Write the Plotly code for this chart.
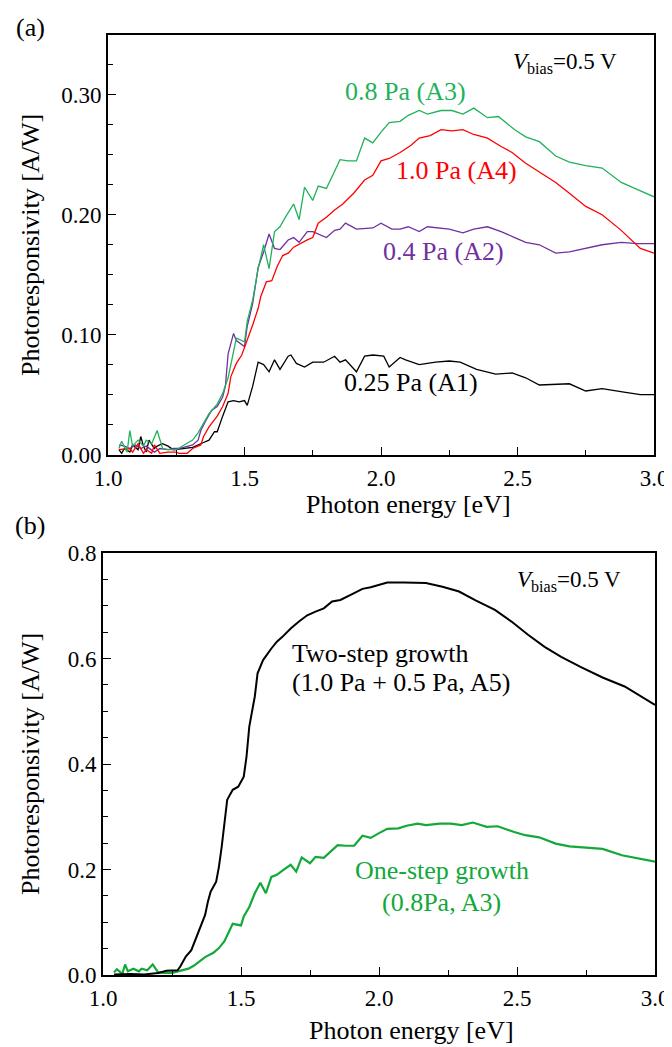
import plotly.graph_objects as go

# ---------------- data: panel (a) ----------------
a1_x = [1.04,1.05,1.06,1.08,1.09,1.11,1.12,1.13,1.14,1.15,
        1.17,1.18,1.20,1.22,1.24,1.28,1.31,1.35,1.37,1.39,
        1.40,1.42,1.44,1.46,1.48,1.50,1.51,1.53,1.55,1.57,
        1.59,1.61,1.63,1.66,1.67,1.69,1.72,1.75,1.79,1.83,
        1.85,1.87,1.91,1.94,1.97,2.01,2.03,2.07,2.09,2.14,
        2.20,2.25,2.29,2.35,2.42,2.48,2.53,2.58,2.69,2.75,
        2.81,2.89,2.95,3.00]
a1_y = [0.004,0.001,0.005,0.002,0.008,0.004,0.015,0.007,0.002,0.012,
        0.005,0.007,0.009,0.007,0.004,0.005,0.006,0.010,0.012,0.019,
        0.019,0.032,0.044,0.045,0.044,0.045,0.041,0.057,0.077,0.075,
        0.069,0.079,0.071,0.082,0.083,0.076,0.073,0.077,0.077,0.082,
        0.077,0.079,0.069,0.082,0.083,0.082,0.073,0.081,0.079,0.075,
        0.077,0.078,0.077,0.071,0.067,0.068,0.064,0.058,0.059,0.053,
        0.055,0.052,0.050,0.050]

a2_x = [1.04,1.06,1.08,1.10,1.12,1.14,1.17,1.19,1.22,1.24,1.26,1.29,
        1.31,1.33,1.34,1.36,1.38,1.40,1.42,1.43,1.44,1.46,
        1.47,1.50,1.51,1.53,1.55,1.57,1.59,1.61,1.63,1.66,
        1.68,1.70,1.73,1.75,1.80,1.83,1.85,1.87,1.91,1.97,
        2.00,2.04,2.07,2.10,2.14,2.17,2.25,2.30,2.34,2.39,
        2.44,2.49,2.53,2.58,2.64,2.69,2.75,2.81,2.88,2.94,
        3.00]
a2_y = [0.008,0.007,0.005,0.008,0.005,0.007,0.002,0.005,0.004,0.005,0.005,0.007,
        0.008,0.012,0.020,0.029,0.037,0.040,0.048,0.057,0.084,0.101,
        0.095,0.090,0.107,0.126,0.156,0.169,0.184,0.172,0.171,0.179,
        0.181,0.177,0.186,0.186,0.181,0.187,0.188,0.193,0.188,0.189,
        0.193,0.188,0.188,0.190,0.186,0.190,0.188,0.185,0.188,0.190,
        0.186,0.181,0.177,0.175,0.168,0.169,0.172,0.175,0.177,0.176,
        0.176]

a3_x = [1.04,1.05,1.07,1.08,1.09,1.11,1.13,1.14,1.16,1.18,
        1.20,1.22,1.25,1.29,1.31,1.33,1.35,1.37,1.40,1.42,
        1.44,1.46,1.47,1.50,1.51,1.53,1.55,1.57,1.59,1.61,
        1.63,1.65,1.68,1.70,1.72,1.75,1.77,1.80,1.85,1.88,
        1.91,1.94,1.97,2.00,2.03,2.07,2.10,2.14,2.17,2.22,
        2.26,2.30,2.34,2.39,2.43,2.49,2.53,2.58,2.64,2.69,
        2.75,2.81,2.88,2.94,3.00]
a3_y = [0.005,0.011,0.002,0.020,0.007,0.012,0.007,0.012,0.009,0.020,
        0.005,0.004,0.004,0.009,0.012,0.018,0.026,0.034,0.042,0.051,
        0.064,0.087,0.097,0.094,0.111,0.129,0.155,0.175,0.155,0.186,
        0.190,0.198,0.209,0.196,0.223,0.212,0.224,0.222,0.246,0.245,
        0.245,0.264,0.260,0.269,0.277,0.278,0.283,0.287,0.284,0.287,
        0.287,0.284,0.289,0.281,0.282,0.271,0.265,0.261,0.249,0.244,
        0.241,0.239,0.227,0.221,0.215]

a4_x = [1.04,1.08,1.09,1.11,1.13,1.14,1.16,1.17,1.19,1.22,
        1.25,1.26,1.29,1.31,1.34,1.35,1.37,1.40,1.42,1.44,
        1.45,1.47,1.49,1.51,1.53,1.55,1.56,1.58,1.60,1.62,
        1.64,1.66,1.68,1.73,1.75,1.77,1.80,1.83,1.86,1.90,
        1.94,1.97,2.00,2.03,2.07,2.11,2.14,2.18,2.22,2.26,
        2.30,2.34,2.39,2.44,2.48,2.53,2.58,2.64,2.69,2.75,
        2.81,2.88,2.95,3.00]
a4_y = [0.004,0.005,0.002,0.009,0.001,0.004,0.001,0.008,0.001,0.002,
        0.002,0.001,0.001,0.005,0.008,0.015,0.023,0.032,0.040,0.051,
        0.065,0.076,0.083,0.095,0.108,0.122,0.132,0.144,0.145,0.157,
        0.166,0.168,0.173,0.179,0.181,0.193,0.198,0.204,0.209,0.218,
        0.229,0.233,0.245,0.247,0.252,0.258,0.264,0.266,0.271,0.270,
        0.271,0.267,0.264,0.257,0.252,0.243,0.236,0.227,0.218,0.207,
        0.200,0.187,0.172,0.168]

# ---------------- data: panel (b) ----------------
a5_x = [1.04,1.10,1.15,1.20,1.23,1.27,1.28,1.30,1.32,1.34,
        1.36,1.37,1.38,1.39,1.41,1.42,1.43,1.44,1.45,1.47,
        1.49,1.51,1.52,1.53,1.55,1.56,1.58,1.61,1.63,1.65,
        1.68,1.71,1.74,1.77,1.80,1.83,1.86,1.91,1.94,1.97,
        2.00,2.03,2.09,2.17,2.23,2.29,2.35,2.42,2.48,2.54,
        2.60,2.66,2.73,2.81,2.89,3.00]
a5_y = [0.001,0.002,0.001,0.004,0.008,0.009,0.016,0.035,0.047,0.073,
        0.098,0.114,0.139,0.158,0.177,0.205,0.243,0.288,0.332,0.351,
        0.357,0.376,0.414,0.471,0.528,0.572,0.597,0.619,0.632,0.641,
        0.657,0.670,0.682,0.689,0.695,0.708,0.711,0.724,0.732,0.735,
        0.739,0.744,0.744,0.743,0.736,0.727,0.710,0.692,0.670,0.645,
        0.622,0.603,0.584,0.564,0.547,0.512]

for xs, ys in [(a1_x, a1_y), (a2_x, a2_y), (a3_x, a3_y), (a4_x, a4_y), (a5_x, a5_y)]:
    assert len(xs) == len(ys)

# ---------------- styling ----------------
W, H = 672, 1047
OFF = 8  # page body margin offset
FONT = "Liberation Serif"
BLACK = "#000000"
RED = "#ff0000"
PURPLE = "#7030a0"
GREEN_A = "#1fb25a"
GREEN_B = "#12a83a"

def px2x(p):
    return (p - OFF) / W

def px2y(p):
    return 1 - (p - OFF) / H

fig = go.Figure()

# panel (a)
for xs, ys, col in [(a1_x, a1_y, BLACK), (a2_x, a2_y, PURPLE),
                    (a4_x, a4_y, RED), (a3_x, a3_y, GREEN_A)]:
    fig.add_trace(go.Scatter(x=xs, y=ys, mode="lines", xaxis="x", yaxis="y",
                             line=dict(color=col, width=1.3), showlegend=False))
# panel (b)
fig.add_trace(go.Scatter(x=a3_x, y=a3_y, mode="lines", xaxis="x2", yaxis="y2",
                         line=dict(color=GREEN_B, width=2.2), showlegend=False))
fig.add_trace(go.Scatter(x=a5_x, y=a5_y, mode="lines", xaxis="x2", yaxis="y2",
                         line=dict(color=BLACK, width=2.0), showlegend=False))

axis_common = dict(showline=True, linecolor="black", linewidth=1.6, mirror=True,
                   ticks="inside", ticklen=8, tickwidth=1.4, tickcolor="black",
                   showgrid=False, zeroline=False, automargin=False,
                   tickfont=dict(family=FONT, size=23, color="black"))

fig.update_layout(
    width=W, height=H, autosize=False,
    margin=dict(l=0, r=0, t=0, b=0, pad=0, autoexpand=False),
    paper_bgcolor="white", plot_bgcolor="white",
    font=dict(family=FONT, color="black"),
    xaxis=dict(domain=[px2x(108), px2x(654)], range=[1.0, 3.0], dtick=0.5, tick0=1.0,
               tickformat=".1f", anchor="y", ticklabelstandoff=2,
               minor=dict(ticks="inside", ticklen=5, dtick=0.25, tickwidth=1.4, tickcolor="black"),
               **axis_common),
    yaxis=dict(domain=[px2y(454.5), px2y(35)], range=[0, 0.35], dtick=0.1, tick0=0,
               tickformat=".2f", anchor="x",
               minor=dict(ticks="inside", ticklen=5, dtick=0.025, tickwidth=1.4, tickcolor="black"),
               **axis_common),
    xaxis2=dict(domain=[px2x(103), px2x(655)], range=[1.0, 3.0], dtick=0.5, tick0=1.0,
                tickformat=".1f", anchor="y2", ticklabelstandoff=2,
                minor=dict(ticks="inside", ticklen=5, dtick=0.25, tickwidth=1.4, tickcolor="black"),
                **axis_common),
    yaxis2=dict(domain=[px2y(975), px2y(553)], range=[0, 0.8], dtick=0.2, tick0=0,
                tickformat=".1f", anchor="x2",
                minor=dict(ticks="inside", ticklen=5, dtick=0.05, tickwidth=1.4, tickcolor="black"),
                **axis_common),
)

ann = []
def paper_text(text, x, y, size, xanchor="center", yanchor="middle", angle=0, color="black"):
    ann.append(dict(text=text, x=px2x(x), y=px2y(y), xref="paper", yref="paper",
                    xanchor=xanchor, yanchor=yanchor, showarrow=False, textangle=angle,
                    font=dict(family=FONT, size=size, color=color)))

def data_text(text, x, y, xr, yr, size, color, xanchor="center", align="center"):
    ann.append(dict(text=text, x=x, y=y, xref=xr, yref=yr, xanchor=xanchor,
                    yanchor="middle", align=align, showarrow=False,
                    font=dict(family=FONT, size=size, color=color)))

# panel labels
paper_text("(a)", 30, 27, 26)
paper_text("(b)", 30, 525, 26)
# axis titles
paper_text("Photoresponsivity [A/W]", 30, 245, 26, angle=-90)
paper_text("Photoresponsivity [A/W]", 30, 764, 26, angle=-90)
paper_text("Photon energy [eV]", 408, 504, 26)
paper_text("Photon energy [eV]", 411, 1030, 26)
# bias
paper_text("<i>V</i><sub>bias</sub>=0.5 V", 619, 63, 23, xanchor="right")
paper_text("<i>V</i><sub>bias</sub>=0.5 V", 623, 581, 23, xanchor="right")

# curve labels (a)
data_text("0.8 Pa (A3)", 2.088, 0.303, "x", "y", 26, GREEN_A)
data_text("1.0 Pa (A4)", 2.277, 0.237, "x", "y", 26, RED)
data_text("0.4 Pa (A2)", 2.23, 0.169, "x", "y", 26, PURPLE)
data_text("0.25 Pa (A1)", 2.109, 0.060, "x", "y", 26, BLACK)
# curve labels (b)
data_text("Two-step growth", 1.678, 0.610, "x2", "y2", 26, BLACK, xanchor="left")
data_text("(1.0 Pa + 0.5 Pa, A5)", 1.678, 0.554, "x2", "y2", 26, BLACK, xanchor="left")
data_text("One-step growth", 2.227, 0.199, "x2", "y2", 26, GREEN_B)
data_text("(0.8Pa, A3)", 2.227, 0.138, "x2", "y2", 26, GREEN_B)

fig.update_layout(annotations=ann)

fig.write_html("out.html")
